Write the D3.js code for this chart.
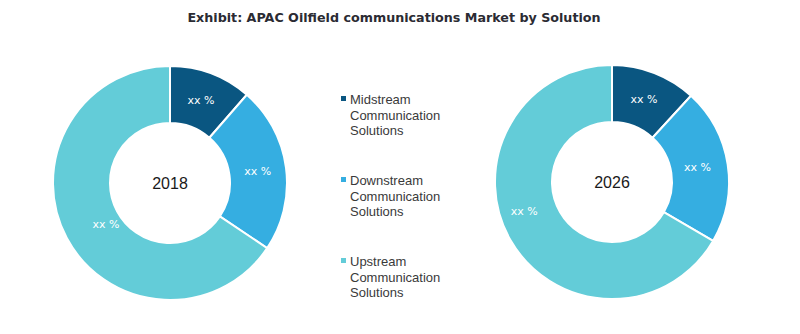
<!DOCTYPE html>
<html>
<head>
<meta charset="utf-8">
<script src="https://cdn.jsdelivr.net/npm/d3@7"></script>
<style>
  html, body { margin: 0; padding: 0; background: #ffffff; }
  svg { display: block; }
</style>
</head>
<body>
<svg id="chart" width="800" height="334"></svg>
<script>
// Market share by solution (percent), per year
const categories = ["Midstream Communication Solutions", "Downstream Communication Solutions", "Upstream Communication Solutions"];
const legendLines = [["Midstream", "Communication", "Solutions"], ["Downstream", "Communication", "Solutions"], ["Upstream", "Communication", "Solutions"]];
const years = ["2018", "2026"];
const values2018 = [11.4, 23.0, 65.6];
const values2026 = [11.8, 21.6, 66.6];
const sliceLabels = ["xx %", "xx %", "xx %"];
const colors = ["#0a5681", "#35aee1", "#63ccd8"];

const svg = d3.select("#chart");
const font = "Verdana, 'DejaVu Sans', sans-serif";

svg.append("text")
  .attr("x", 394).attr("y", 22)
  .attr("text-anchor", "middle")
  .attr("font-family", font)
  .attr("font-weight", "bold")
  .attr("font-size", 12.7)
  .attr("fill", "#2b2b33")
  .text("Exhibit: APAC Oilfield communications Market by Solution");

const color = d3.scaleOrdinal().domain(categories).range(colors);
const pie = d3.pie().sort(null).value(d => d.value);
const outerR = 117, innerR = 60;
const arc = d3.arc().innerRadius(innerR).outerRadius(outerR);

// labelShift nudges each slice label away from its arc centroid
const donuts = [
  { year: years[0], values: values2018, cx: 170, cy: 183, labelShift: [[0, 0], [0, 0], [14, -1]] },
  { year: years[1], values: values2026, cx: 612, cy: 182, labelShift: [[0, 0], [-2, -2], [-11, -15]] }
];

donuts.forEach(dn => {
  const data = categories.map((c, i) => ({ key: c, value: dn.values[i], label: sliceLabels[i], idx: i }));
  const g = svg.append("g").attr("transform", `translate(${dn.cx},${dn.cy})`);
  const arcs = pie(data);
  g.selectAll("path")
    .data(arcs)
    .join("path")
    .attr("d", arc)
    .attr("fill", d => color(d.data.key))
    .attr("stroke", "#ffffff")
    .attr("stroke-width", 2);
  g.selectAll("text.lbl")
    .data(arcs)
    .join("text")
    .attr("class", "lbl")
    .attr("transform", d => {
      const [x, y] = arc.centroid(d);
      const [sx, sy] = dn.labelShift[d.data.idx];
      return `translate(${x + sx},${y + sy})`;
    })
    .attr("text-anchor", "middle")
    .attr("dy", "0.35em")
    .attr("font-family", font)
    .attr("font-size", 11)
    .attr("fill", "#ffffff")
    .text(d => d.data.label);
  g.append("text")
    .attr("text-anchor", "middle")
    .attr("dy", "0.36em")
    .attr("font-family", "Arial, 'Liberation Sans', sans-serif")
    .attr("font-size", 16)
    .attr("fill", "#1a1a1a")
    .text(dn.year);
});

// Legend
const legendY = d3.scalePoint().domain(categories).range([100, 262]);
const legend = svg.append("g");
categories.forEach((c, i) => {
  const y = legendY(c);
  legend.append("rect")
    .attr("x", 341).attr("y", y - 4)
    .attr("width", 5).attr("height", 5)
    .attr("fill", colors[i]);
  const t = legend.append("text")
    .attr("font-family", "Arial, 'Liberation Sans', sans-serif")
    .attr("font-size", 13)
    .attr("fill", "#3a3a3a");
  legendLines[i].forEach((ln, j) => {
    t.append("tspan").attr("x", 350).attr("y", y + 4 + j * 15.5).text(ln);
  });
});
</script>
</body>
</html>
